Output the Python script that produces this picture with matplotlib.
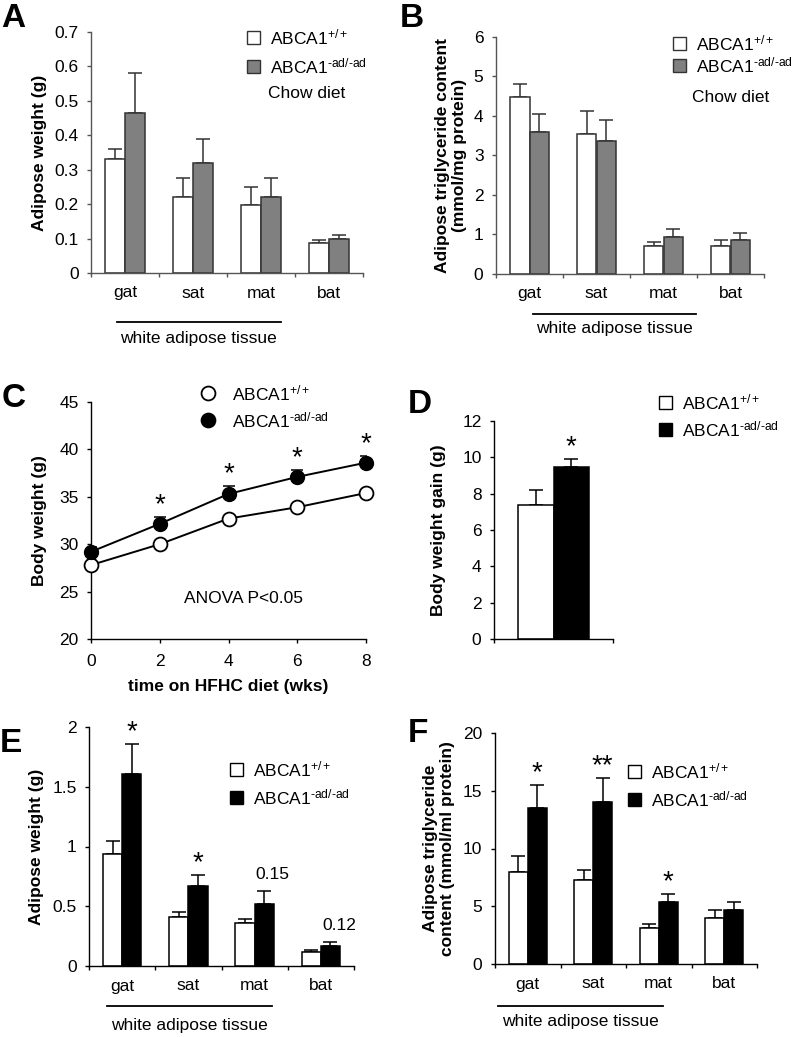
import numpy as np
import matplotlib
matplotlib.use("Agg")
import matplotlib.pyplot as plt
from matplotlib.patches import Rectangle
from matplotlib.lines import Line2D

W, H = 793, 1037
DPI = 100
FS = 12.5

plt.rcParams["font.family"] = ["Liberation Sans", "DejaVu Sans"]
plt.rcParams["font.size"] = FS
plt.rcParams["mathtext.default"] = "regular"

tissues = ["gat", "sat", "mat", "bat"]
label_wt = r"ABCA1$^{+/+}$"
label_ko = "ABCA1$^{\u2010ad/\u2010ad}$"

# A: adipose weight on chow diet (g)
chow_weight_wt = [0.33, 0.22, 0.197, 0.087]
chow_weight_wt_err = [0.03, 0.055, 0.053, 0.01]
chow_weight_ko = [0.465, 0.32, 0.22, 0.10]
chow_weight_ko_err = [0.115, 0.07, 0.055, 0.01]

# B: adipose triglyceride on chow diet (mmol/mg protein)
chow_tg_wt = [4.47, 3.55, 0.70, 0.70]
chow_tg_wt_err = [0.35, 0.57, 0.10, 0.15]
chow_tg_ko = [3.60, 3.37, 0.93, 0.85]
chow_tg_ko_err = [0.45, 0.53, 0.22, 0.18]

# C: body weight on HFHC diet (g)
weeks = [0, 2, 4, 6, 8]
bw_wt = [27.8, 30.0, 32.7, 33.9, 35.4]
bw_ko = [29.2, 32.15, 35.3, 37.1, 38.6]
bw_ko_err = [0.5, 0.75, 0.85, 0.75, 0.75]
bw_marks = ["", "*", "*", "*", "*"]

# D: body weight gain (g)
gain = [7.4, 9.45]
gain_err = [0.8, 0.48]
gain_marks = ["", "*"]

# E: adipose weight on HFHC diet (g)
hf_weight_wt = [0.937, 0.413, 0.357, 0.12]
hf_weight_wt_err = [0.113, 0.042, 0.039, 0.01]
hf_weight_ko = [1.604, 0.672, 0.516, 0.167]
hf_weight_ko_err = [0.256, 0.092, 0.109, 0.033]
hf_weight_marks = ["*", "*", "0.15", "0.12"]

# F: adipose triglyceride on HFHC diet (mmol/ml protein)
hf_tg_wt = [7.94, 7.3, 3.12, 3.95]
hf_tg_wt_err = [1.44, 0.8, 0.38, 0.7]
hf_tg_ko = [13.5, 14.0, 5.4, 4.68]
hf_tg_ko_err = [2.0, 2.1, 0.69, 0.72]
hf_tg_marks = ["*", "**", "*", ""]


def px_axes(fig, left, top, right, bottom):
    return fig.add_axes([left / W, 1 - bottom / H, (right - left) / W, (bottom - top) / H])


def style_axes(ax, color):
    for side in ("top", "right"):
        ax.spines[side].set_visible(False)
    for side in ("left", "bottom"):
        ax.spines[side].set_color(color)
        ax.spines[side].set_linewidth(1.0)
    ax.tick_params(direction="out", length=3, width=1, color=color, pad=6)


def set_yticks(ax, ticks):
    ax.set_ylim(ticks[0], ticks[-1])
    ax.set_yticks(ticks, [f"{t:g}" for t in ticks])


def ylabel_at(ax, text, x_px, left, width):
    ax.set_ylabel(text, fontweight="bold", fontsize=FS, linespacing=1.1)
    ax.yaxis.label.set_va("center")
    ax.yaxis.set_label_coords((x_px - left) / width, 0.5)


def add_marks(ax, xs, tops, marks, star_size=20):
    for x, top, mark in zip(xs, tops, marks):
        if not mark:
            continue
        if mark.startswith("*"):
            ax.annotate(mark, (x, top), xytext=(0, -1), textcoords="offset points",
                        ha="center", va="bottom", fontsize=star_size)
        else:
            ax.annotate(mark, (x, top), xytext=(6, 9), textcoords="offset points",
                        ha="center", va="baseline", fontsize=FS)


def grouped_bars(ax, wt, wt_err, ko, ko_err, ko_color, edge, bar_w=0.29):
    x = np.arange(len(wt)) + 0.5
    n = len(wt)
    ax.bar(x - bar_w / 2, wt, bar_w, color="white", edgecolor=edge, linewidth=1.1, zorder=2)
    ax.bar(x + bar_w / 2, ko, bar_w, color=ko_color, edgecolor=edge, linewidth=1.1, zorder=2)
    ax.errorbar(x - bar_w / 2, wt, yerr=[np.zeros(n), wt_err], fmt="none",
                ecolor=edge, elinewidth=1.1, capsize=5, capthick=1.1, zorder=1)
    ax.errorbar(x + bar_w / 2, ko, yerr=[np.zeros(n), ko_err], fmt="none",
                ecolor=edge, elinewidth=1.1, capsize=5, capthick=1.1, zorder=1)
    ax.set_xlim(0, n)
    ax.set_xticks(np.arange(n + 1), [])
    ax.set_xticks(x, tissues, minor=True)
    ax.tick_params(axis="x", which="minor", length=0, pad=9)
    return x + bar_w / 2, np.array(ko) + np.array(ko_err)


def tissue_bracket(ax, x0, x1, y_line, y_text):
    tr = ax.get_xaxis_transform()
    ax.plot([x0, x1], [y_line, y_line], color="black", lw=1.3, transform=tr, clip_on=False)
    ax.text((x0 + x1) / 2, y_text, "white adipose tissue", transform=tr,
            ha="center", va="center", fontsize=FS)


def legend_square(fig, x, y, face, edge, label):
    fig.add_artist(Rectangle((x / W, 1 - (y + 6.5) / H), 13 / W, 13 / H,
                             transform=fig.transFigure, facecolor=face,
                             edgecolor=edge, linewidth=1))
    fig.text((x + 23) / W, 1 - y / H, label, va="center", ha="left", fontsize=FS)


def legend_circle(fig, x, y, face, label):
    fig.add_artist(Line2D([x / W], [1 - y / H], marker="o", markersize=10,
                          markerfacecolor=face, markeredgecolor="black",
                          markeredgewidth=1.3, transform=fig.transFigure))
    fig.text((x + 24) / W, 1 - y / H, label, va="center", ha="left", fontsize=FS)


def panel_letter(fig, x, y, letter):
    fig.text(x / W, 1 - y / H, letter, fontsize=24, fontweight="bold",
             ha="left", va="baseline")


fig = plt.figure(figsize=(W / DPI, H / DPI), dpi=DPI)

# ---- A ----
axA = px_axes(fig, 91, 32, 363, 273)
style_axes(axA, "#555555")
grouped_bars(axA, chow_weight_wt, chow_weight_wt_err, chow_weight_ko, chow_weight_ko_err,
             "#808080", "#333333")
set_yticks(axA, [0, 0.1, 0.2, 0.3, 0.4, 0.5, 0.6, 0.7])
ylabel_at(axA, "Adipose weight (g)", 40, 91, 272)
tissue_bracket(axA, 0.38, 2.79, -0.203, -0.27)
legend_square(fig, 247, 37, "white", "#333333", label_wt)
legend_square(fig, 247, 66, "#808080", "#333333", label_ko)
fig.text(268 / W, 1 - 93 / H, "Chow diet", va="center", fontsize=FS)
panel_letter(fig, 1, 27, "A")

# ---- B ----
axB = px_axes(fig, 496, 37, 764, 274)
style_axes(axB, "#555555")
grouped_bars(axB, chow_tg_wt, chow_tg_wt_err, chow_tg_ko, chow_tg_ko_err,
             "#808080", "#333333")
set_yticks(axB, [0, 1, 2, 3, 4, 5, 6])
ylabel_at(axB, "Adipose triglyceride content\n(mmol/mg protein)", 451, 496, 268)
tissue_bracket(axB, 0.55, 2.99, -0.169, -0.228)
legend_square(fig, 673, 43, "white", "#333333", label_wt)
legend_square(fig, 673, 65, "#808080", "#333333", label_ko)
fig.text(692 / W, 1 - 98 / H, "Chow diet", va="center", fontsize=FS)
panel_letter(fig, 400, 27, "B")

# ---- C ----
axC = px_axes(fig, 91, 402, 366, 639)
style_axes(axC, "black")
axC.errorbar(weeks, bw_ko, yerr=[np.zeros(len(weeks)), bw_ko_err], fmt="none",
             ecolor="black", elinewidth=1.1, capsize=4, capthick=1.1, zorder=2)
axC.plot(weeks, bw_wt, "-o", color="black", markerfacecolor="white",
         markeredgecolor="black", markersize=10, markeredgewidth=1.3, lw=1.4,
         clip_on=False, zorder=3)
axC.plot(weeks, bw_ko, "-o", color="black", markerfacecolor="black",
         markersize=10, lw=1.4, clip_on=False, zorder=4)
axC.set_xlim(0, 8)
axC.set_xticks(weeks, [str(w) for w in weeks])
axC.tick_params(axis="x", pad=8)
set_yticks(axC, [20, 25, 30, 35, 40, 45])
ylabel_at(axC, "Body weight (g)", 40, 91, 275)
axC.set_xlabel("time on HFHC diet (wks)", fontweight="bold", fontsize=FS)
axC.xaxis.label.set_va("center")
axC.xaxis.set_label_coords(0.5, -(687 - 639) / 237)
add_marks(axC, weeks, np.array(bw_ko) + np.array(bw_ko_err), bw_marks, star_size=20)
axC.text(0.555, 0.17, "ANOVA P<0.05", transform=axC.transAxes, ha="center",
         va="center", fontsize=FS)
legend_circle(fig, 208, 393, "white", label_wt)
legend_circle(fig, 208, 420, "black", label_ko)
panel_letter(fig, 2, 407, "C")

# ---- D ----
axD = px_axes(fig, 494, 421, 613, 639)
style_axes(axD, "black")
d_w = 0.295
d_x = np.array([0.5 - d_w / 2, 0.5 + d_w / 2])
axD.bar(d_x, gain, d_w, color=["white", "black"], edgecolor="black", linewidth=1.1, zorder=2)
axD.errorbar(d_x, gain, yerr=[np.zeros(2), gain_err], fmt="none", ecolor="black",
             elinewidth=1.1, capsize=5, capthick=1.1, zorder=1)
axD.set_xlim(0, 1)
axD.set_xticks([0, 1], [])
set_yticks(axD, [0, 2, 4, 6, 8, 10, 12])
ylabel_at(axD, "Body weight gain (g)", 439, 494, 119)
add_marks(axD, d_x, np.array(gain) + np.array(gain_err), gain_marks)
legend_square(fig, 659, 402, "white", "black", label_wt)
legend_square(fig, 659, 429, "black", "black", label_ko)
panel_letter(fig, 408, 413, "D")

# ---- E ----
axE = px_axes(fig, 89, 727, 354, 966)
style_axes(axE, "black")
xs, tops = grouped_bars(axE, hf_weight_wt, hf_weight_wt_err, hf_weight_ko,
                        hf_weight_ko_err, "black", "black")
set_yticks(axE, [0, 0.5, 1, 1.5, 2])
ylabel_at(axE, "Adipose weight (g)", 37, 89, 265)
tissue_bracket(axE, 0.27, 2.76, -0.167, -0.247)
add_marks(axE, xs, tops, hf_weight_marks)
legend_square(fig, 230, 769, "white", "black", label_wt)
legend_square(fig, 230, 797, "black", "black", label_ko)
panel_letter(fig, 0, 752, "E")

# ---- F ----
axF = px_axes(fig, 495, 733, 757, 964)
style_axes(axF, "black")
xs, tops = grouped_bars(axF, hf_tg_wt, hf_tg_wt_err, hf_tg_ko, hf_tg_ko_err,
                        "black", "black")
set_yticks(axF, [0, 5, 10, 15, 20])
ylabel_at(axF, "Adipose triglyceride\ncontent (mmol/ml protein)", 439, 495, 262)
tissue_bracket(axF, 0.05, 2.56, -0.182, -0.251)
add_marks(axF, xs, tops, hf_tg_marks)
legend_square(fig, 628, 771, "white", "black", label_wt)
legend_square(fig, 628, 799, "black", "black", label_ko)
panel_letter(fig, 408, 742, "F")

fig.savefig("out.png", dpi=DPI)
